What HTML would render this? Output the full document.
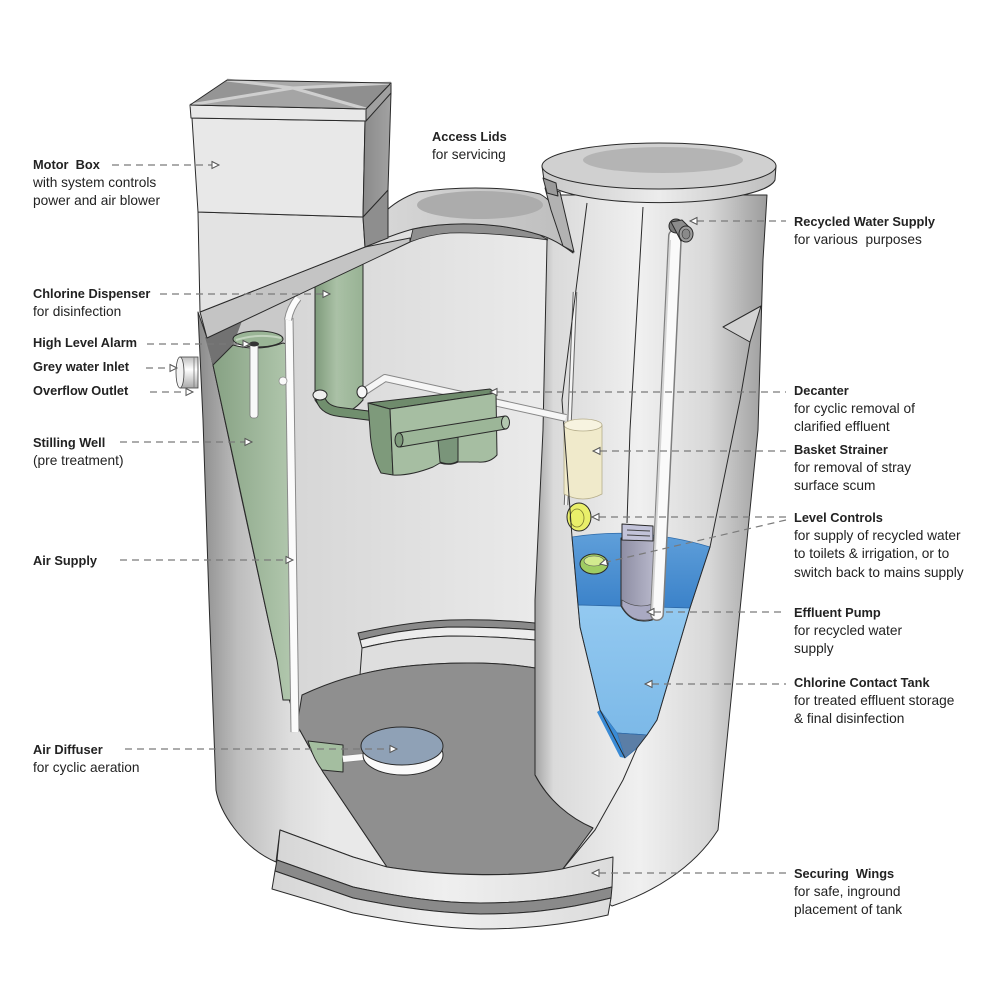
<!DOCTYPE html>
<html><head><meta charset="utf-8">
<style>
html,body{margin:0;padding:0;background:#fff;}
svg{display:block;}
.t{font-family:"Liberation Sans",Arial,sans-serif;font-size:13.7px;fill:#222;white-space:pre;}
.b{font-weight:bold;font-size:12.8px;}
.ld{stroke:#7a7a7a;stroke-width:1.2;stroke-dasharray:7 5;fill:none;}
.ar{fill:#fff;stroke:#555;stroke-width:1;}
.o{stroke:#2a2a2a;stroke-width:1;stroke-linejoin:round;}
.f{stroke:#2a2a2a;stroke-width:1;fill:none;stroke-linejoin:round;}
</style></head><body>
<svg width="1000" height="1000" viewBox="0 0 1000 1000" xmlns="http://www.w3.org/2000/svg">
<defs>
<linearGradient id="gShellL" gradientUnits="userSpaceOnUse" x1="198" y1="0" x2="330" y2="0">
<stop offset="0" stop-color="#8a8a8a"/><stop offset="0.3" stop-color="#bdbdbd"/><stop offset="0.7" stop-color="#dedede"/><stop offset="1" stop-color="#e9e9e9"/></linearGradient>
<linearGradient id="gBack" gradientUnits="userSpaceOnUse" x1="290" y1="0" x2="548" y2="0">
<stop offset="0" stop-color="#d6d6d6"/><stop offset="1" stop-color="#ebebeb"/></linearGradient>
<linearGradient id="gRiser" gradientUnits="userSpaceOnUse" x1="535" y1="0" x2="767" y2="0">
<stop offset="0" stop-color="#a4a4a4"/><stop offset="0.08" stop-color="#dadada"/><stop offset="0.45" stop-color="#f0f0f0"/><stop offset="0.75" stop-color="#d8d8d8"/><stop offset="1" stop-color="#9c9c9c"/></linearGradient>
<linearGradient id="gGreen" gradientUnits="userSpaceOnUse" x1="212" y1="0" x2="291" y2="0">
<stop offset="0" stop-color="#86a183"/><stop offset="1" stop-color="#b1c7ad"/></linearGradient>
<linearGradient id="gDisp" gradientUnits="userSpaceOnUse" x1="315" y1="0" x2="363" y2="0">
<stop offset="0" stop-color="#7f9b7c"/><stop offset="0.45" stop-color="#aac1a6"/><stop offset="1" stop-color="#98b294"/></linearGradient>
<linearGradient id="gBlueTop" x1="0" y1="0" x2="0" y2="1">
<stop offset="0" stop-color="#5f9fda"/><stop offset="1" stop-color="#3b82c9"/></linearGradient>
<linearGradient id="gBlueLow" x1="0" y1="0" x2="0" y2="1">
<stop offset="0" stop-color="#93c9f0"/><stop offset="1" stop-color="#7cb9e8"/></linearGradient>
<linearGradient id="gPump" gradientUnits="userSpaceOnUse" x1="620" y1="0" x2="664" y2="0">
<stop offset="0" stop-color="#8c8ca2"/><stop offset="1" stop-color="#c4c4d6"/></linearGradient>
<linearGradient id="gLidRim" gradientUnits="userSpaceOnUse" x1="542" y1="0" x2="776" y2="0">
<stop offset="0" stop-color="#c8c8c8"/><stop offset="0.5" stop-color="#ececec"/><stop offset="1" stop-color="#bdbdbd"/></linearGradient>
<linearGradient id="gBoxR" x1="0" y1="0" x2="1" y2="0">
<stop offset="0" stop-color="#8a8a8a"/><stop offset="1" stop-color="#a2a2a2"/></linearGradient>
<linearGradient id="gDome" x1="0" y1="0" x2="1" y2="0">
<stop offset="0" stop-color="#d9d9d9"/><stop offset="0.5" stop-color="#cbcbcb"/><stop offset="1" stop-color="#bdbdbd"/></linearGradient>
<linearGradient id="gInlet" x1="0" y1="0" x2="0" y2="1">
<stop offset="0" stop-color="#bdbdbd"/><stop offset="0.4" stop-color="#ffffff"/><stop offset="1" stop-color="#a9a9a9"/></linearGradient>
<linearGradient id="gWing" x1="0" y1="0" x2="1" y2="0">
<stop offset="0" stop-color="#d6d6d6"/><stop offset="0.5" stop-color="#efefef"/><stop offset="1" stop-color="#dcdcdc"/></linearGradient>
</defs>

<!-- left shell -->
<path class="o" fill="url(#gShellL)" d="M198,312 L207,338 L213,365 L242,500 L277,660 L297,725 L323,772 L387,867 L353,857 L280,830 L276,862 Q252,852 234,828 Q219,808 216,790 L209,600 L203,420 Z"/>
<!-- back wall -->
<path fill="url(#gBack)" d="M207,338 L365,247 L413,227 C460,218 510,220 548,234 L548,300 L543,430 L535,600 L535,700 L290,720 L290,330 Z"/>
<!-- area behind well -->
<path fill="#c9c9c9" d="M207,338 L292,298 L292,345 L233,345 L213,365 Z"/>
<path fill="#727272" d="M205,337 L242,321 L233,345 L213,366 Z"/>

<!-- riser -->
<path class="o" fill="url(#gRiser)" d="M548,195 L767,195 L763,260 L758,430 L745,560 L731,700 L718,830 Q700,858 670,878 Q645,895 612,906 L562,870 L593,828 Q555,812 535,775 L535,600 L543,430 Z"/>
<path class="o" fill="#d2d2d2" d="M761,306 L723,327 L750,342 Z"/>
<!-- thin pipe inside riser -->
<path d="M575,292 L566,505" stroke="#666" stroke-width="4.5" fill="none"/>
<path d="M575,292 L566,505" stroke="#f4f4f4" stroke-width="2.5" fill="none"/>
<!-- basket strainer -->
<path fill="#f0eacb" stroke="#b5ad8a" stroke-width="0.8" d="M564,425 L564,494 Q583,504 602,494 L602,425 Z"/>
<ellipse cx="583" cy="425" rx="19" ry="6" fill="#f7f3e0" stroke="#b5ad8a" stroke-width="0.8"/>
<!-- yellow disk -->
<ellipse class="o" cx="579" cy="517" rx="12" ry="14" fill="#e9ef6a"/>
<ellipse cx="577" cy="518" rx="7" ry="9" fill="none" stroke="#7a7a30" stroke-width="0.8"/>
<!-- blue tank -->
<path fill="url(#gBlueTop)" stroke="#2e6aa8" stroke-width="0.8" d="M572,537 Q640,526 710,547 L690,608 L578,605 Z"/>
<path fill="url(#gBlueLow)" stroke="#2e6aa8" stroke-width="0.8" d="M578,605 L690,608 L657,720 L647,735 L617,733 L600,710 L580,627 Z"/>
<path fill="#5b7ea6" stroke="#2e6aa8" stroke-width="0.8" d="M617,733 L647,735 L637,748 L625,758 Z"/>
<path fill="#3a8bd5" d="M600,710 L617,733 L625,758 L620,757 L597,712 Z"/>
<!-- pump -->
<path class="o" fill="url(#gPump)" d="M621,538 L621,606 Q630,622 645,621 Q660,621 663,606 L663,538 Z"/>
<path fill="#a9a9c2" stroke="#444" stroke-width="0.6" d="M622,600 Q640,612 662,600 L662,606 Q660,620 645,620 Q630,621 622,606 Z"/>
<path class="o" fill="#c2c3d9" d="M622,524 L653,526 L653,541 L622,540 Z"/>
<path d="M627,530 L650,531 M627,535 L650,536" stroke="#444" stroke-width="1" fill="none"/>
<!-- green float -->
<ellipse class="o" cx="594" cy="564" rx="14" ry="10" fill="#9fcc62"/>
<ellipse cx="594" cy="561" rx="10" ry="5" fill="#d2ea8e" stroke="#555" stroke-width="0.6"/>
<!-- recycled water pipe -->
<path d="M675,236 L657,614" stroke="#7e7e7e" stroke-width="14" stroke-linecap="round" fill="none"/>
<path d="M675,236 L657,614" stroke="#fafafa" stroke-width="11" stroke-linecap="round" fill="none"/>
<path d="M670,240 L652,612" stroke="#d4d4d4" stroke-width="2" fill="none"/>
<ellipse class="o" cx="676" cy="226" rx="7" ry="7" fill="#7a7a7a"/>
<path class="o" fill="#8c8c8c" d="M671,222 L682,220 L692,230 L681,241 Z"/>
<ellipse class="o" cx="686" cy="234" rx="7" ry="8" fill="#9c9c9c"/>
<ellipse cx="686" cy="234" rx="4" ry="5" fill="#8a8a8a" stroke="#333" stroke-width="0.6"/>
<!-- riser lines -->
<path class="f" d="M587,203 L562,400 L572,537 L578,605 L580,627 L600,710 L625,758"/>
<path class="f" d="M643,207 L630,430 L627,523"/>
<path class="f" d="M750,342 L740,400 L710,547 L690,608 L657,720 L647,735 L637,748 L623,780 L595,830 L562,870"/>

<!-- step ledge -->
<path class="o" fill="#8a8a8a" d="M358,633 C390,626 420,621 450,620 C490,619 515,621 535,623 L535,630 C510,628 485,627 450,627 C420,628 390,632 360,640 Z"/>
<path class="o" fill="#ececec" d="M360,640 C390,632 420,628 450,627 C485,627 510,628 535,630 L535,640 C510,638 485,636 450,636 C420,637 390,641 362,648 Z"/>
<path class="o" fill="#dedede" d="M362,648 C390,641 420,637 450,636 C485,636 510,638 535,640 L535,668 C500,662 450,661 400,667 C385,669 372,671 360,675 Z"/>
<!-- floor -->
<path class="o" fill="#8f8f8f" d="M302,695 C330,682 360,672 400,667 C450,661 500,662 535,668 L535,775 C548,800 570,818 593,828 L562,870 C520,876 450,877 387,867 L323,772 L297,725 Z"/>

<!-- stilling well -->
<path class="o" fill="url(#gGreen)" d="M213,365 L233,345 Q258,352 283,343 L290,345 L291,700 L283,700 L277,660 Z"/>
<ellipse class="o" cx="258" cy="339" rx="25" ry="8" fill="#9ab596"/>
<path d="M236,340 Q258,333 281,338" stroke="#c2d4be" stroke-width="2" fill="none"/>
<!-- high level alarm pipe -->
<rect x="250" y="343" width="8" height="75" rx="3" fill="#f8f8f8" stroke="#777" stroke-width="0.8"/>
<ellipse cx="254" cy="344" rx="5" ry="2.5" fill="#333"/>
<!-- air supply pipe -->
<path d="M289,318 L295,732" stroke="#8a8a8a" stroke-width="9" fill="none"/>
<path d="M289,318 L295,732" stroke="#fbfbfb" stroke-width="7" fill="none"/>
<path d="M288,320 Q290,308 298,298" stroke="#8a8a8a" stroke-width="8" fill="none"/>
<path d="M288,320 Q290,308 298,298" stroke="#fbfbfb" stroke-width="6" fill="none"/>
<ellipse cx="283" cy="381" rx="4" ry="4" fill="#fafafa" stroke="#888" stroke-width="0.7"/>

<!-- chlorine dispenser -->
<path class="o" fill="url(#gDisp)" d="M315,255 L363,255 L363,400 Q352,413 339,413 Q322,412 315,400 Z"/>
<path d="M320,396 Q322,410 340,412 L372,416" stroke="#2a2a2a" stroke-width="10" fill="none"/>
<path d="M320,396 Q322,410 340,412 L372,416" stroke="#718f6e" stroke-width="8" fill="none"/>
<ellipse class="o" cx="320" cy="395" rx="7" ry="5" fill="#eeeeee"/>
<!-- decanter pipe -->
<path d="M362,393 L385,378 L566,418" stroke="#888" stroke-width="8" fill="none" stroke-linejoin="round"/>
<path d="M362,393 L385,378 L566,418" stroke="#f6f6f6" stroke-width="6" fill="none" stroke-linejoin="round"/>
<ellipse class="o" cx="362" cy="392" rx="5" ry="6" fill="#f6f6f6"/>
<!-- decanter -->
<path class="o" fill="#6f8b6c" d="M368,403 L490,389 L496,393 L390,409 Z"/>
<path class="o" fill="#7e9a7b" d="M368,403 L390,409 L393,475 L381,473 Q371,455 370,430 Z"/>
<path class="o" fill="#a6bea2" d="M390,409 L496,393 L497,455 Q490,463 478,462 L458,462 Q450,466 440,463 L433,467 Q410,476 393,475 Z"/>
<path class="o" fill="#7a957a" d="M438,440 L458,437 L458,461 Q450,466 440,462 Z"/>
<path class="o" fill="#9cb698" d="M398,433 L505,416 L506,429 L400,447 Z"/>
<ellipse class="o" cx="505.5" cy="422.5" rx="4" ry="6.5" fill="#b3c8af"/>
<ellipse class="o" cx="399" cy="440" rx="4" ry="7" fill="#7e9a7b"/>

<!-- roof band -->
<path class="o" fill="#c4c4c4" d="M200,312 L365,247 L410,238 L410,242 L207,338 Z"/>
<!-- dark strip under dome -->
<path fill="#8f8f8f" stroke="#2a2a2a" stroke-width="0.8" d="M410,242 L413,229 C450,221 500,222 540,235 L548,240 C520,236 480,232 450,233 C435,234 420,238 410,242 Z"/>
<!-- dome -->
<path class="o" fill="url(#gDome)" d="M365,247 C370,222 390,202 418,192 C460,186 510,187 540,194 C558,204 568,228 573,253 C560,243 550,238 540,235 C500,222 450,221 413,229 C395,234 380,240 365,247 Z"/>
<ellipse cx="480" cy="205" rx="63" ry="14" fill="#acacac"/>
<path class="o" fill="#b2b2b2" d="M545,188 L560,192 L574,252 L563,246 L551,210 Z"/>

<!-- motor box -->
<path class="o" fill="#e3e3e3" d="M198,212 L363,217 L365,247 L200,312 Z"/>
<path class="o" fill="#8e8e8e" d="M363,217 L388,190 L388,238 L365,247 Z"/>
<path class="o" fill="#e8e8e8" d="M192,118 L365,121 L363,217 L198,212 Z"/>
<path class="o" fill="url(#gBoxR)" d="M365,121 L391,93 L388,190 L363,217 Z"/>
<path class="o" fill="#e8e8e8" d="M190,105 L366,109 L366,121 L191,118 Z"/>
<path class="o" fill="#a0a0a0" d="M366,109 L391,83 L391,93 L366,121 Z"/>
<path fill="#a5a5a5" d="M190,105 L366,109 L293,88 Z"/>
<path fill="#959595" d="M190,105 L227,80 L293,88 Z"/>
<path fill="#aaaaaa" d="M227,80 L391,83 L293,88 Z"/>
<path fill="#8f8f8f" d="M391,83 L366,109 L293,88 Z"/>
<path d="M190,105 L293,88 L391,83 M227,80 L293,88 L366,109" stroke="#cfcfcf" stroke-width="3" fill="none"/>
<path class="f" d="M190,105 L227,80 L391,83 L366,109 Z"/>

<!-- riser lid -->
<path class="o" fill="url(#gLidRim)" d="M542,166 L544,180 A116,25 0 0 0 775,180 L776,166 Z"/>
<ellipse class="o" cx="659" cy="166" rx="117" ry="23" fill="#d0d0d0"/>
<ellipse cx="663" cy="160" rx="80" ry="13" fill="#b4b4b4"/>
<path class="o" fill="#9a9a9a" d="M543,178 L556,183 L558,196 L547,193 Z"/>

<!-- securing wings -->
<path class="o" fill="url(#gWing)" d="M280,830 L353,857 L387,867 C450,877 520,877 562,869 L613,857 L612,887 C560,900 520,903 480,903 C440,903 400,897 353,887 L277,860 Z"/>
<path class="o" fill="#8a8a8a" d="M277,860 L353,887 C400,897 440,903 480,903 C520,903 560,900 612,887 L611,898 C560,911 520,914 480,914 C440,913 400,908 353,898 L275,871 Z"/>
<path class="o" fill="url(#gWing)" d="M275,871 L353,898 C400,908 440,913 480,914 C520,914 560,911 611,898 L608,915 C560,926 520,929 480,929 C440,928 400,922 353,913 L272,889 Z"/>

<!-- air diffuser -->
<path class="o" fill="#a4bea0" d="M308,741 L343,745 L343,772 L322,770 Q313,758 308,741 Z"/>
<path d="M343,759 L363,757" stroke="#888" stroke-width="8" fill="none"/>
<path d="M343,759 L363,757" stroke="#fafafa" stroke-width="6" fill="none"/>
<ellipse class="o" cx="403" cy="755" rx="40" ry="20" fill="#fafafa"/>
<ellipse class="o" cx="402" cy="746" rx="41" ry="19" fill="#8fa1b6"/>

<!-- grey water inlet -->
<rect x="180" y="357" width="18" height="31" fill="url(#gInlet)" stroke="#444" stroke-width="0.8"/>
<ellipse cx="180" cy="372.5" rx="4" ry="15.5" fill="#f2f2f2" stroke="#444" stroke-width="0.8"/>
<line x1="194" y1="357" x2="194" y2="388" stroke="#777" stroke-width="0.8"/>

<!-- leaders left -->
<path class="ld" d="M112,165 L212,165"/><polygon class="ar" points="212,161.5 219,165 212,168.5"/>
<path class="ld" d="M160,294 L323,294"/><polygon class="ar" points="323,290.5 330,294 323,297.5"/>
<path class="ld" d="M147,344 L243,344"/><polygon class="ar" points="243,340.5 250,344 243,347.5"/>
<path class="ld" d="M146,368 L170,368"/><polygon class="ar" points="170,364.5 177,368 170,371.5"/>
<path class="ld" d="M150,392 L186,392"/><polygon class="ar" points="186,388.5 193,392 186,395.5"/>
<path class="ld" d="M120,442 L245,442"/><polygon class="ar" points="245,438.5 252,442 245,445.5"/>
<path class="ld" d="M120,560 L286,560"/><polygon class="ar" points="286,556.5 293,560 286,563.5"/>
<path class="ld" d="M125,749 L390,749"/><polygon class="ar" points="390,745.5 397,749 390,752.5"/>
<!-- leaders right -->
<path class="ld" d="M697,221 L786,221"/><polygon class="ar" points="697,217.5 690,221 697,224.5"/>
<path class="ld" d="M497,392 L786,392"/><polygon class="ar" points="497,388.5 490,392 497,395.5"/>
<path class="ld" d="M600,451 L786,451"/><polygon class="ar" points="600,447.5 593,451 600,454.5"/>
<path class="ld" d="M599,517 L786,517"/><polygon class="ar" points="599,513.5 592,517 599,520.5"/>
<path class="ld" d="M786,520 L607,562"/><polygon class="ar" points="606,558.9 600,564 607.6,565.8"/>
<path class="ld" d="M654,612 L786,612"/><polygon class="ar" points="654,608.5 647,612 654,615.5"/>
<path class="ld" d="M652,684 L786,684"/><polygon class="ar" points="652,680.5 645,684 652,687.5"/>
<path class="ld" d="M599,873 L786,873"/><polygon class="ar" points="599,869.5 592,873 599,876.5"/>

<!-- left labels -->
<text class="t b" x="33" y="169">Motor  Box</text>
<text class="t" x="33" y="187">with system controls</text>
<text class="t" x="33" y="205">power and air blower</text>
<text class="t b" x="33" y="298">Chlorine Dispenser</text>
<text class="t" x="33" y="316">for disinfection</text>
<text class="t b" x="33" y="347">High Level Alarm</text>
<text class="t b" x="33" y="371">Grey water Inlet</text>
<text class="t b" x="33" y="395">Overflow Outlet</text>
<text class="t b" x="33" y="447">Stilling Well</text>
<text class="t" x="33" y="465">(pre treatment)</text>
<text class="t b" x="33" y="565">Air Supply</text>
<text class="t b" x="33" y="754">Air Diffuser</text>
<text class="t" x="33" y="772">for cyclic aeration</text>
<!-- top label -->
<text class="t b" x="432" y="141">Access Lids</text>
<text class="t" x="432" y="159">for servicing</text>
<!-- right labels -->
<text class="t b" x="794" y="226">Recycled Water Supply</text>
<text class="t" x="794" y="244">for various  purposes</text>
<text class="t b" x="794" y="395">Decanter</text>
<text class="t" x="794" y="413">for cyclic removal of</text>
<text class="t" x="794" y="431">clarified effluent</text>
<text class="t b" x="794" y="454">Basket Strainer</text>
<text class="t" x="794" y="472">for removal of stray</text>
<text class="t" x="794" y="490">surface scum</text>
<text class="t b" x="794" y="522">Level Controls</text>
<text class="t" x="794" y="540">for supply of recycled water</text>
<text class="t" x="794" y="558">to toilets &amp; irrigation, or to</text>
<text class="t" x="794" y="577">switch back to mains supply</text>
<text class="t b" x="794" y="617">Effluent Pump</text>
<text class="t" x="794" y="635">for recycled water</text>
<text class="t" x="794" y="653">supply</text>
<text class="t b" x="794" y="687">Chlorine Contact Tank</text>
<text class="t" x="794" y="705">for treated effluent storage</text>
<text class="t" x="794" y="723">&amp; final disinfection</text>
<text class="t b" x="794" y="878">Securing  Wings</text>
<text class="t" x="794" y="896">for safe, inground</text>
<text class="t" x="794" y="914">placement of tank</text>
</svg>
</body></html>
